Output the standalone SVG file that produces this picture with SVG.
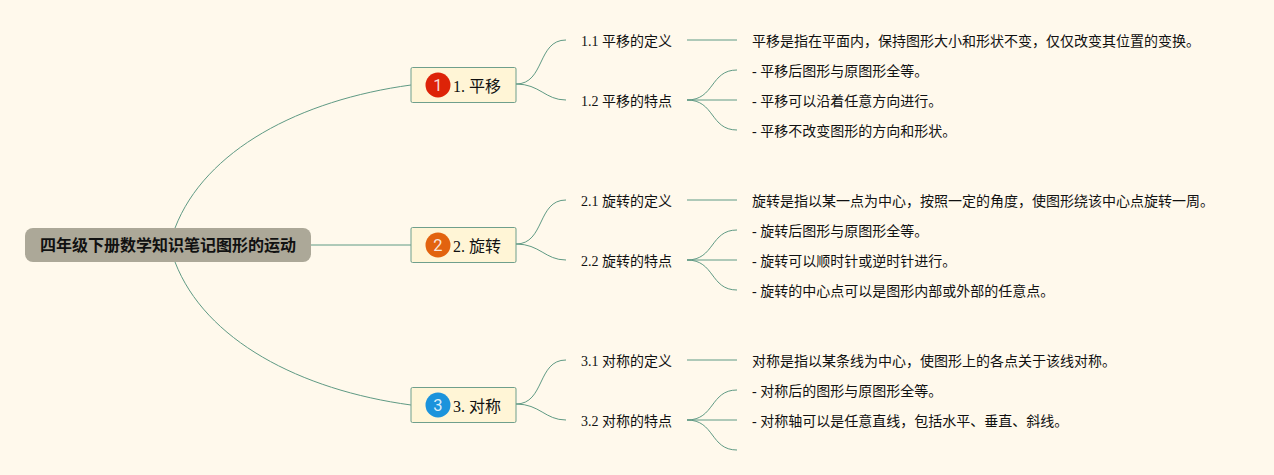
<svg xmlns="http://www.w3.org/2000/svg" width="1274" height="475" viewBox="0 0 1274 475">
<style>
text{font-family:"Liberation Serif","Noto Sans CJK SC",serif;fill:#111}
.c path{fill:none;stroke:#5f9a84;stroke-width:1}
.box{fill:#fff5d6;stroke:#6f9f8c;stroke-width:1}
.t{font-size:16px}
.s,.l{font-size:14px}
.n{font-family:"Roboto","Liberation Sans",sans-serif;font-size:16.500px;fill:#fff;fill-opacity:.85;text-anchor:middle}
</style>
<rect width="1274" height="475" fill="#fff9ec"/>
<g class="c" id="connectors">
<path d="M175 228C205 150 300 100 411 85"/>
<path d="M311 245H411"/>
<path d="M175 262C205 340 300 390 411 405"/>
<path d="M516 84C545 84 537 40 566 40"/>
<path d="M516 84C540 84 545 100 566 100"/>
<path d="M687 40H737"/>
<path d="M687 100C715 100 710 70 737 70"/>
<path d="M687 100H737"/>
<path d="M687 100C715 100 710 130 737 130"/>
<path d="M516 244C545 244 537 200 566 200"/>
<path d="M516 244C540 244 545 260 566 260"/>
<path d="M687 200H737"/>
<path d="M687 260C715 260 710 230 737 230"/>
<path d="M687 260H737"/>
<path d="M687 260C715 260 710 290 737 290"/>
<path d="M516 404C545 404 537 360 566 360"/>
<path d="M516 404C540 404 545 420 566 420"/>
<path d="M687 360H737"/>
<path d="M687 420C715 420 710 390 737 390"/>
<path d="M687 420H737"/>
<path d="M687 420C715 420 710 450 737 450"/>
</g>
<g id="root"><rect x="25" y="228" width="286" height="34" rx="8" fill="#aca898"/><text x="40" y="251" font-size="16" font-weight="700">四年级下册数学知识笔记图形的运动</text></g>
<g id="n1"><rect class="box" x="411" y="67.500" width="105" height="35" rx="1.500"/><circle cx="438" cy="85" r="12.500" fill="#dd2308"/><text class="n" x="438" y="91">1</text><text class="t" x="453" y="92">1. 平移</text></g>
<g id="n2"><rect class="box" x="411" y="227.500" width="105" height="35" rx="1.500"/><circle cx="438" cy="245" r="12.500" fill="#e2630f"/><text class="n" x="438" y="251">2</text><text class="t" x="453" y="252">2. 旋转</text></g>
<g id="n3"><rect class="box" x="411" y="387.500" width="105" height="35" rx="1.500"/><circle cx="438" cy="405" r="12.500" fill="#1b93dc"/><text class="n" x="438" y="411">3</text><text class="t" x="453" y="412">3. 对称</text></g>
<g id="n11"><text class="s" x="581" y="46">1.1 平移的定义</text></g>
<g id="n12"><text class="s" x="581" y="106">1.2 平移的特点</text></g>
<g id="n21"><text class="s" x="581" y="206">2.1 旋转的定义</text></g>
<g id="n22"><text class="s" x="581" y="266">2.2 旋转的特点</text></g>
<g id="n31"><text class="s" x="581" y="366">3.1 对称的定义</text></g>
<g id="n32"><text class="s" x="581" y="426">3.2 对称的特点</text></g>
<g id="l111"><text class="l" x="752" y="46">平移是指在平面内，保持图形大小和形状不变，仅仅改变其位置的变换。</text></g>
<g id="l121"><text class="l" x="752" y="76">- 平移后图形与原图形全等。</text></g>
<g id="l122"><text class="l" x="752" y="106">- 平移可以沿着任意方向进行。</text></g>
<g id="l123"><text class="l" x="752" y="136">- 平移不改变图形的方向和形状。</text></g>
<g id="l211"><text class="l" x="752" y="206">旋转是指以某一点为中心，按照一定的角度，使图形绕该中心点旋转一周。</text></g>
<g id="l221"><text class="l" x="752" y="236">- 旋转后图形与原图形全等。</text></g>
<g id="l222"><text class="l" x="752" y="266">- 旋转可以顺时针或逆时针进行。</text></g>
<g id="l223"><text class="l" x="752" y="296">- 旋转的中心点可以是图形内部或外部的任意点。</text></g>
<g id="l311"><text class="l" x="752" y="366">对称是指以某条线为中心，使图形上的各点关于该线对称。</text></g>
<g id="l321"><text class="l" x="752" y="396">- 对称后的图形与原图形全等。</text></g>
<g id="l322"><text class="l" x="752" y="426">- 对称轴可以是任意直线，包括水平、垂直、斜线。</text></g>
</svg>
